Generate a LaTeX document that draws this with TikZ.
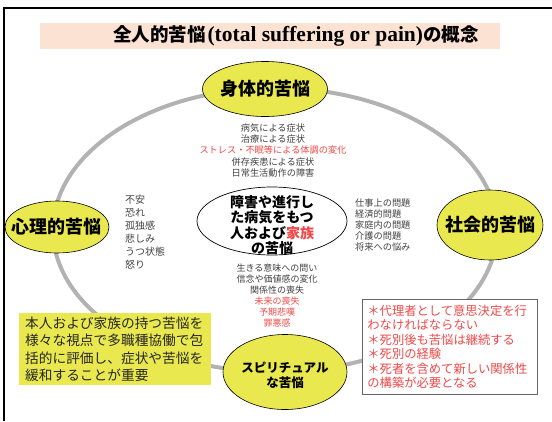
\documentclass[tikz,border=0pt]{standalone}
\usepackage{fontspec}
\newfontfamily\jp{Noto Sans CJK JP}
\newfontfamily\tms{Liberation Serif}
\usetikzlibrary{shapes.geometric}
\definecolor{yel}{HTML}{EAE84F}
\definecolor{peach}{HTML}{FBE2D3}
\definecolor{ringgray}{HTML}{B2B2B2}
\definecolor{txtgray}{HTML}{404040}
\definecolor{txtred}{HTML}{F04848}
\begin{document}
\begin{tikzpicture}[x=1pt,y=-1pt,
  yellowell/.style={ellipse, draw=black, line width=0.6pt, fill=yel, inner sep=0pt},
  headtxt/.style={font=\jp\bfseries\fontsize{18}{20}\selectfont, inner sep=0pt},
  listtxt/.style={font=\jp\fontsize{9.2}{11.2}\selectfont, text=txtgray, inner sep=0pt},
  red/.style={text=txtred}]
\useasboundingbox (0,0) rectangle (552,421);
% frame
\coordinate (ftl) at (4,8);
\coordinate (ftr) at (552,8);
\coordinate (fbl) at (4,421);
\draw[line width=2pt] (fbl) -- (ftl) -- (ftr);
% title
\node (title) [fill=peach, minimum width=460pt, minimum height=26pt, inner sep=0pt] at (270,36) {};
\node[inner sep=0pt] at (296,36)
  {{\jp\bfseries\fontsize{18.5}{19}\selectfont 全人的苦悩}\,{\tms\bfseries\fontsize{21.5}{22}\selectfont (total suffering or pain)}{\jp\bfseries\fontsize{18.5}{19}\selectfont の概念}};
% ring
\node (ring) [ellipse, draw=ringgray, line width=4pt, minimum width=444pt, minimum height=284pt, inner sep=0pt] at (275,230) {};
% four nodes
\node (body) [yellowell, minimum width=125pt, minimum height=55pt] at (265,89) {};
\node[headtxt] at (body) {身体的苦悩};
\node (mind) [yellowell, minimum width=104pt, minimum height=52pt] at (57,227) {};
\node[headtxt] at (mind) {心理的苦悩};
\node (soc) [yellowell, minimum width=106pt, minimum height=70pt] at (490,225) {};
\node[headtxt] at (soc) {社会的苦悩};
\node (spir) [yellowell, minimum width=124pt, minimum height=75pt] at (285,372) {};
\node[font=\jp\bfseries\fontsize{12.5}{15}\selectfont, align=center, inner sep=0pt] at (285,375) {スピリチュアル\\な苦悩};
% center
\node (core) [ellipse, draw=black, line width=0.7pt, fill=white, minimum width=150pt, minimum height=68pt, inner sep=0pt] at (272,221) {};
\node[font=\jp\bfseries\fontsize{14}{15.5}\selectfont, align=center, inner sep=0pt] at (272,225)
  {障害や進行し\\た病気をもつ\\人および{\color{txtred}家族}\\の苦悩};
% lists
\node (lbody) [listtxt, align=center] at (273,150.5)
  {病気による症状\\治療による症状\\{\color{txtred}ストレス・不眠等による体調の変化}\\併存疾患による症状\\日常生活動作の障害};
\node (lmind) [listtxt, align=left, anchor=west, font=\jp\fontsize{10}{13}\selectfont] at (125,232)
  {不安\\恐れ\\孤独感\\悲しみ\\うつ状態\\怒り};
\node (lsoc) [listtxt, align=left, anchor=west] at (355,225)
  {仕事上の問題\\経済的問題\\家庭内の問題\\介護の問題\\将来への悩み};
\node (lspir) [listtxt, align=center, font=\jp\fontsize{9}{11}\selectfont] at (277,295.5)
  {生きる意味への問い\\信念や価値感の変化\\関係性の喪失\\{\color{txtred}未来の喪失}\\{\color{txtred}予期悲嘆}\\{\color{txtred}罪悪感}};
% notes
\node (note) [fill=yel, anchor=north west, minimum width=192pt, minimum height=72pt, inner xsep=6pt, inner ysep=0pt, text width=180pt, align=left,
  font=\jp\fontsize{13.7}{17.4}\selectfont, text=black!85] at (19,313)
  {本人および家族の持つ苦悩を\\様々な視点で多職種協働で包\\括的に評価し、症状や苦悩を\\緩和することが重要};
\node (grief) [draw=black!60, line width=0.8pt, fill=white, anchor=north west, minimum width=175pt, minimum height=95pt, inner xsep=5pt, inner ysep=0pt, text width=165pt, align=left,
  font=\jp\fontsize{12.3}{14.4}\selectfont, text=txtred] at (362,299)
  {＊代理者として意思決定を行\\わなければならない\\＊死別後も苦悩は継続する\\＊死別の経験\\＊死者を含めて新しい関係性\\の構築が必要となる};
\end{tikzpicture}
\end{document}
